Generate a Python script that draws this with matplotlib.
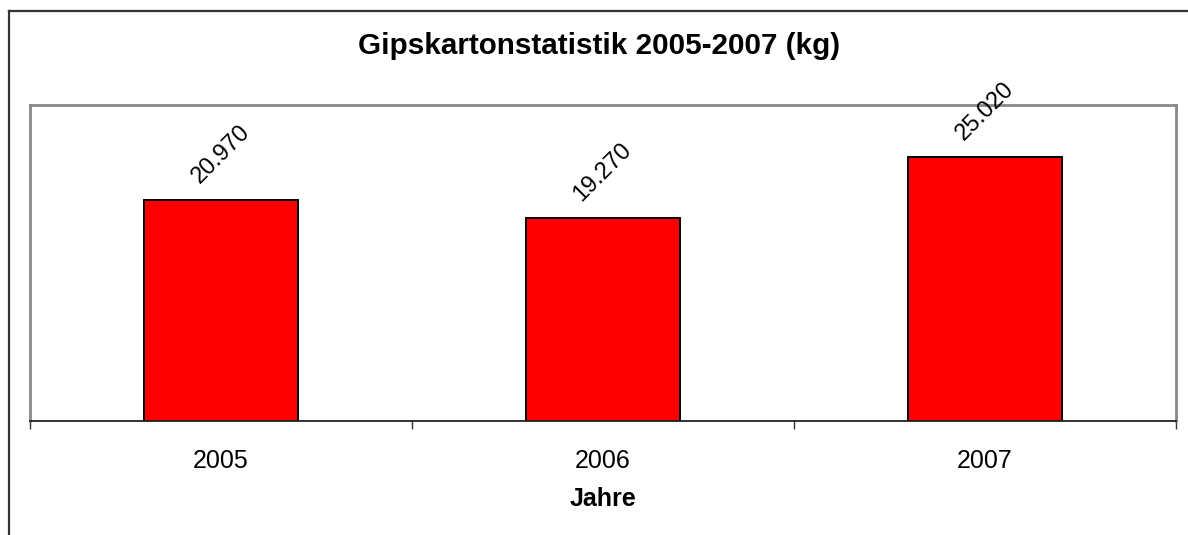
import matplotlib.pyplot as plt
from matplotlib.lines import Line2D

plt.rcParams['font.family'] = ['Liberation Sans', 'DejaVu Sans']

# Daten
jahre = ['2005', '2006', '2007']
werte = [20970, 19270, 25020]
titel = 'Gipskartonstatistik 2005-2007 (kg)'
x_label = 'Jahre'

W, H = 1188, 535
fig = plt.figure(figsize=(W / 100, H / 100), dpi=100)

# Plotbereich (Pixelwerte aus der Vorlage)
ax = fig.add_axes([30 / W, 1 - 421 / H, (1176 - 30) / W, (421 - 105) / H])

pos = list(range(len(jahre)))
bars = ax.bar(pos, werte, width=0.405, color='#ff0000', edgecolor='black', linewidth=1.4)

ax.set_xlim(-0.5, len(jahre) - 0.5)
ax.set_ylim(0, 30000)

# Beschriftung der Balken, deutsches Zahlenformat
for b, v in zip(bars, werte):
    ax.annotate(f"{v:,}".replace(",", "."),
                xy=(b.get_x() + b.get_width() / 2, b.get_height()),
                xytext=(0, 9), textcoords='offset points',
                ha='center', va='bottom', rotation=45, fontsize=17)

# Achsen: Striche an den Kategoriegrenzen, Beschriftung in der Mitte
ax.set_xticks([p - 0.5 for p in pos] + [pos[-1] + 0.5])
ax.set_xticklabels([])
ax.set_xticks(pos, minor=True)
ax.set_xticklabels(jahre, minor=True, fontsize=18)
ax.tick_params(axis='x', which='major', length=6, width=1, color='#333333', direction='out')
ax.tick_params(axis='x', which='minor', length=0, pad=20)
ax.set_yticks([])

for s in ['left', 'right', 'top']:
    ax.spines[s].set_color('#888888')
    ax.spines[s].set_linewidth(2)
ax.spines['bottom'].set_color('#222222')
ax.spines['bottom'].set_linewidth(1.3)

ax.set_xlabel(x_label, fontsize=18, fontweight='bold', labelpad=10)

fig.text(599 / W, 1 - 54 / H, titel, ha='center', va='baseline',
         fontsize=21.3, fontweight='bold')

# Rahmen um das Diagramm (rechts und unten abgeschnitten)
fig.add_artist(Line2D([9 / W, 9 / W], [0, 1 - 11 / H], color='#333333', linewidth=1.6))
fig.add_artist(Line2D([9 / W, 1], [1 - 11 / H, 1 - 11 / H], color='#333333', linewidth=1.6))

fig.savefig('out.png', dpi=100)
